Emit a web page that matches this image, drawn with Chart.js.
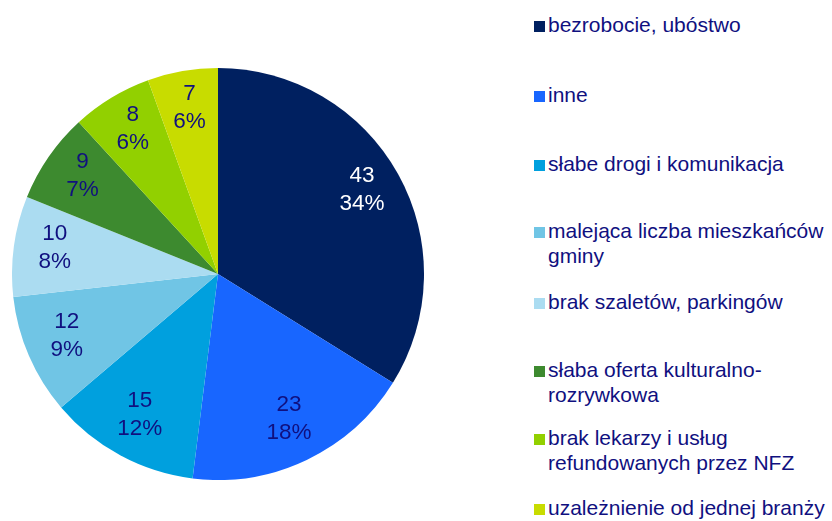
<!DOCTYPE html>
<html>
<head>
<meta charset="utf-8">
<script src="https://cdn.jsdelivr.net/npm/chart.js@4"></script>
<style>
  body { margin: 0; background: #fff; width: 832px; height: 521px; overflow: hidden; position: relative; font-family: Arial, "Liberation Sans", sans-serif; }
  #pieBox { position: absolute; left: 12px; top: 68px; width: 412px; height: 412px; }
  .leg { position: absolute; left: 534px; font-size: 21px; line-height: 25px; color: #10107f; white-space: nowrap; }
  .leg .sq { position: absolute; left: 0; top: 9px; width: 11px; height: 11px; }
  .leg .txt { margin-left: 14px; }
</style>
</head>
<body>
<div id="pieBox"><canvas id="myChart"></canvas></div>
<div id="legend"></div>
<script>
// data
const categories = [
  ["bezrobocie, ubóstwo"],
  ["inne"],
  ["słabe drogi i komunikacja"],
  ["malejąca liczba mieszkańców", "gminy"],
  ["brak szaletów, parkingów"],
  ["słaba oferta kulturalno-", "rozrywkowa"],
  ["brak lekarzy i usług", "refundowanych przez NFZ"],
  ["uzależnienie od jednej branży"]
];
const counts = [43, 23, 15, 12, 10, 9, 8, 7];

const sliceColors = ["#002060", "#1866ff", "#00a0de", "#70c5e5", "#abdcf1", "#3d8a2f", "#92d000", "#c8dc00"];
const labelColors = ["#ffffff", "#10107f", "#10107f", "#10107f", "#10107f", "#10107f", "#10107f", "#10107f"];
// baselines of first legend line
const legendBaselines = [32, 102, 171, 238, 309, 377, 445, 515];

let total = 0;
for (let i = 0; i < counts.length; i += 1) {
  total += counts[i];
}

// legend on the right
let legendDiv = document.getElementById("legend");
for (let i = 0; i < categories.length; i += 1) {
  let item = document.createElement("div");
  item.className = "leg";
  item.style.top = (legendBaselines[i] - 20) + "px";
  item.innerHTML = '<div class="sq" style="background:' + sliceColors[i] + '"></div>' +
    '<div class="txt">' + categories[i].join("<br>") + '</div>';
  legendDiv.appendChild(item);
}

// value + percent inside each slice
const sliceLabels = {
  id: "sliceLabels",
  afterDatasetsDraw(chart) {
    const ctx = chart.ctx;
    const arcs = chart.getDatasetMeta(0).data;
    ctx.save();
    ctx.font = '22.5px Arial, "Liberation Sans", sans-serif';
    ctx.textAlign = "center";
    ctx.textBaseline = "middle";
    for (let i = 0; i < arcs.length; i += 1) {
      const p = arcs[i].getProps(["x", "y", "startAngle", "endAngle", "outerRadius"], true);
      const mid = (p.startAngle + p.endAngle) / 2;
      const r = p.outerRadius * 0.8;
      const cx = p.x + Math.cos(mid) * r;
      const cy = p.y + Math.sin(mid) * r - 4;
      const pct = Math.round(counts[i] / total * 100);
      ctx.fillStyle = labelColors[i];
      ctx.fillText(String(counts[i]), cx, cy - 14);
      ctx.fillText(pct + "%", cx, cy + 14);
    }
    ctx.restore();
  }
};

const ctx = document.getElementById("myChart").getContext("2d");
const myChart = new Chart(ctx, {
  type: "pie",
  data: {
    labels: categories,
    datasets: [
      {
        data: counts,
        backgroundColor: sliceColors,
        borderColor: "#ffffff",
        borderWidth: 0
      }
    ]
  },
  options: {
    responsive: true,
    maintainAspectRatio: false,
    animation: false,
    layout: { padding: 0 },
    plugins: {
      legend: { display: false },
      tooltip: { enabled: false }
    }
  },
  plugins: [sliceLabels]
});
</script>
</body>
</html>
